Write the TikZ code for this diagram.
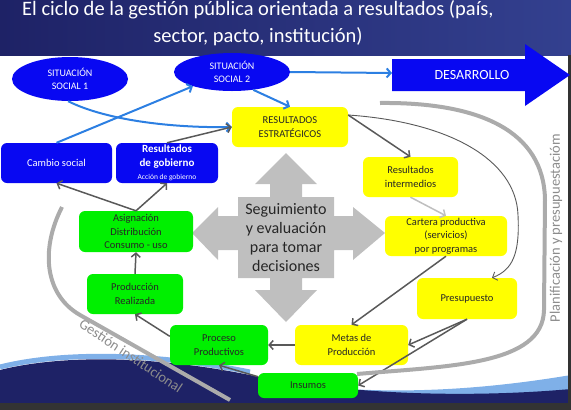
\documentclass[tikz,border=0pt]{standalone}
\usepackage{fontspec}
\setmainfont{Carlito}
\usetikzlibrary{arrows.meta,calc,shapes.geometric}
\newcommand{\setfs}[2]{\fontsize{#1}{#2}\selectfont}
\definecolor{slidenavy}{HTML}{1E2266}
\definecolor{slidenavyr}{HTML}{33408F}
\definecolor{slideblue}{HTML}{0808F2}
\definecolor{linkblue}{HTML}{2C7FE2}
\definecolor{linkgrey}{HTML}{595959}
\definecolor{bandgrey}{HTML}{ABABAB}
\definecolor{crossgrey}{HTML}{BFBFBF}
\definecolor{boxyellow}{HTML}{FFFF00}
\definecolor{boxgreen}{HTML}{00F000}
\definecolor{wavelight}{HTML}{7FB0E8}

\begin{document}
\begin{tikzpicture}[x=1pt,y=-1pt,>={Straight Barb[length=4pt,width=9pt]},
  box/.style={rounded corners=6pt,inner sep=0pt,align=center,text=black!85,font=\setfs{10.5}{13.5}},
  ybox/.style={box,fill=boxyellow},
  gbox/.style={box,fill=boxgreen},
  bbox/.style={box,fill=slideblue,text=white},
  sit/.style={ellipse,inner sep=0pt,fill=slideblue,text=white,align=center,font=\setfs{10}{13}},
  link/.style={linkgrey,line width=1.5pt},
  bluelink/.style={linkblue,line width=2pt},
  band/.style={bandgrey,line width=4pt},
  bandlabel/.style={text=black!45,font=\setfs{14.5}{16}}]
\useasboundingbox (0,0) rectangle (571,410);
% header and bottom wave
\shade[left color=slidenavy,right color=slidenavyr] (0,0) rectangle (571,55);
\node[white,font=\setfs{20.5}{24},anchor=base] (title1) at (258,15) {El ciclo de la gestión pública orientada a resultados (país,};
\node[white,font=\setfs{20.5}{24},anchor=base] (title2) at (258,42) {sector, pacto, institución)};
\fill[wavelight] (250,377) .. controls (360,398) and (470,392) .. (571,375) -- (571,410) -- (250,410) -- cycle;
\draw[wavelight,line width=5pt] (0,367) .. controls (60,352) and (150,352) .. (250,372);
\fill[slidenavy] (0,370) .. controls (60,355) and (150,355) .. (250,375) .. controls (350,395) and (470,398) .. (571,389) -- (571,410) -- (0,410) -- cycle;
\fill[black!80] (0,403) rectangle (571,410);
\fill[black!80] (568,55) rectangle (571,410);

% gray cross
\fill[crossgrey] (286,153) -- (317,184) -- (302,184) -- (302,197) -- (334,197) -- (334,216) -- (353,216)
  -- (353,207) -- (385,233) -- (353,260) -- (353,250) -- (334,250) -- (334,278) -- (302,278) -- (302,290)
  -- (317,290) -- (286,322) -- (255,290) -- (270,290) -- (270,278) -- (238,278) -- (238,250) -- (218,250)
  -- (218,260) -- (192,233) -- (218,207) -- (218,216) -- (238,216) -- (238,197) -- (270,197) -- (270,184)
  -- (255,184) -- cycle;
\node[text=black!85,align=center,font=\setfs{16}{19}] (seg) at (286,238) {Seguimiento\\y evaluación\\para tomar\\decisiones};

% DESARROLLO
\fill[slideblue] (392,59) -- (525,59) -- (525,44) -- (570,75) -- (525,106) -- (525,91) -- (392,91) -- cycle;
\node[white,font=\setfs{14}{16}] (des) at (472,75) {DESARROLLO};
\coordinate (desw) at (392,73);

% nodes
\node[sit,minimum width=116pt,minimum height=44pt] (s1) at (70,79) {SITUACIÓN\\SOCIAL 1};
\node[sit,minimum width=116pt,minimum height=38pt] (s2) at (232,72) {SITUACIÓN\\SOCIAL 2};
\node[ybox,minimum width=116pt,minimum height=40pt] (re) at (290,127) {RESULTADOS\\ESTRATÉGICOS};
\node[bbox,minimum width=111pt,minimum height=40pt] (cs) at (56.5,163) {Cambio social};
\node[bbox,minimum width=102pt,minimum height=40pt] (rg) at (167,163)
  {\bfseries\setfs{11}{13}Resultados\\\bfseries\setfs{11}{12}de gobierno\\{\setfs{7.5}{9}Acción de gobierno}};
\node[ybox,minimum width=95pt,minimum height=40pt] (ri) at (410.5,177) {Resultados\\intermedios};
\node[ybox,minimum width=122pt,minimum height=40pt] (cp) at (446,236) {Cartera productiva\\(servicios)\\por programas};
\node[ybox,minimum width=100pt,minimum height=41pt] (pr) at (467,298.5) {Presupuesto};
\node[ybox,minimum width=113pt,minimum height=40pt] (mp) at (351.5,345) {Metas de\\Producción};
\node[gbox,minimum width=100pt,minimum height=25pt] (in) at (308,385.5) {Insumos};
\node[gbox,minimum width=98pt,minimum height=40pt] (pp) at (219,345) {Proceso\\Productivos};
\node[gbox,minimum width=96pt,minimum height=40pt] (prd) at (135,294) {Producción\\Realizada};
\node[gbox,minimum width=114pt,minimum height=41pt] (as) at (136,231.5) {Asignación\\Distribución\\Consumo - uso};

% blue links
\draw[->,bluelink] (s2.east) -- (desw);
\draw[->,bluelink] (s2.-40) -- (re.north);
\draw[->,bluelink] (s1.-95) .. controls (110,122) and (180,128) .. (re.west);
\draw[->,bluelink] (cs.north) -- (s2.-160);

% grey links
\coordinate (reo) at ($(re.east)+(0,-12)$);
\coordinate (prn) at ($(pr.north)+(25,0)$);
\foreach \a/\b in {reo/ri.north, cp.south/mp.north, pr.south/mp.east, pr.south/in.east, mp.west/pp.east,
  in.170/pp.south, pp.170/prd.south, prd.north/as.south, as.north/cs.south, as.north/rg.south, rg.north/re.west}
  \draw[->,link] (\a) -- (\b);
\draw[->,linkgrey,line width=0.9pt] (reo) .. controls (450,122) and (516,160) .. (518,215)
  .. controls (520,255) and (512,270) .. (prn);
\draw[->,crossgrey,line width=1.5pt] (ri.south) -- (cp.north);

% planificacion / gestion bands
\draw[band] (380,103) .. controls (478,102) and (544,130) .. (545,200) -- (544,310)
  .. controls (543,365) and (450,366) .. (357,374);
\node[bandlabel,rotate=90] (plan) at (556,228) {Planificación y presupuestacióm};
\node[bandlabel,rotate=-33.7] (gest) at (131,356) {Gestión institucional};
\draw[band] (62,207) .. controls (40,250) and (45,295) .. (80,315) -- (230,400);
\end{tikzpicture}
\end{document}
